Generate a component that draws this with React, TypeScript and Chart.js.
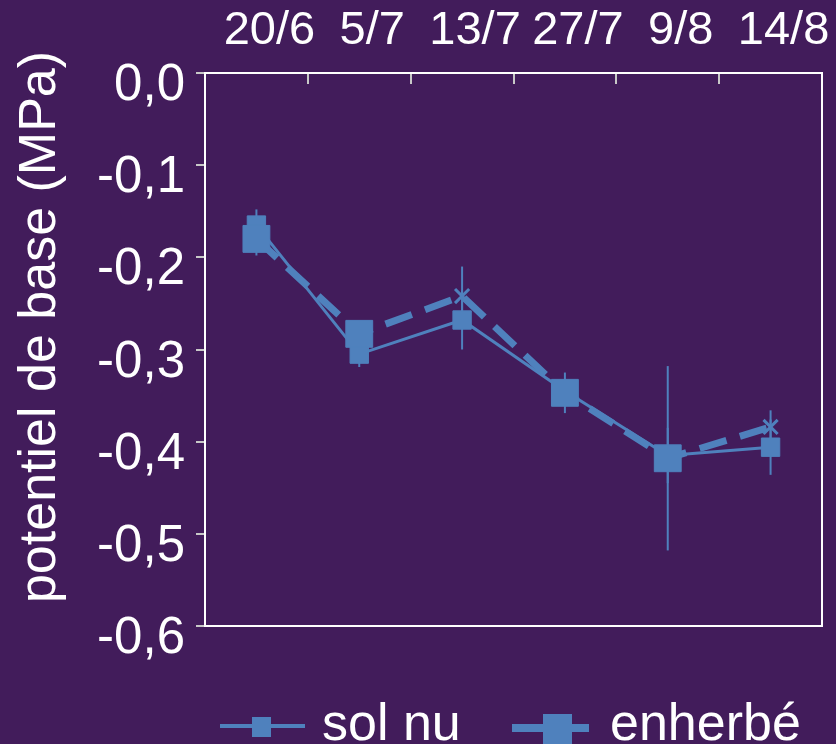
import React, { useEffect, useRef } from 'react';
import { Chart, registerables } from 'chart.js';

Chart.register(...registerables);

// ---- data ----
const categories = ['20/6', '5/7', '13/7', '27/7', '9/8', '14/8'];
const solNu = [-0.165, -0.305, -0.268, -0.345, -0.415, -0.406];
const solNuErr = [0.017, 0.014, 0.032, 0.012, 0.03, 0.03];
const enherbe = [-0.18, -0.283, -0.242, -0.347, -0.418, -0.384];
const enherbeErr = [0.018, 0.01, 0.032, 0.022, 0.1, 0.018];
const enherbeMarkers = ['rect', 'rect', 'crossRot', 'rect', 'rect', 'crossRot'];
const yTickLabels = ['0,0', '-0,1', '-0,2', '-0,3', '-0,4', '-0,5', '-0,6'];
const seriesNames = ['sol nu', 'enherbé'];
const yTitle = 'potentiel de base (MPa)';

const FONT = "'Liberation Sans', Arial, Helvetica, sans-serif";
const BG = '#421c5b';
const BLUE = '#4f81bd';
const WHITE = '#ffffff';
const TICK_GREY = '#c8c8c8';

export default function App() {
  const ref = useRef<HTMLCanvasElement>(null);

  useEffect(() => {
    const canvas = ref.current;
    if (!canvas) return;

    const bgPlugin = {
      id: 'bg',
      beforeDraw(chart: any) {
        const { ctx, width, height } = chart;
        ctx.save();
        ctx.fillStyle = BG;
        ctx.fillRect(0, 0, width, height);
        ctx.restore();
      },
    };

    const errPlugin = {
      id: 'errBars',
      beforeDatasetsDraw(chart: any) {
        const { ctx } = chart;
        const ys = chart.scales.y;
        const errs = [solNuErr, enherbeErr];
        ctx.save();
        ctx.strokeStyle = BLUE;
        ctx.lineWidth = 2;
        chart.data.datasets.forEach((ds: any, i: number) => {
          const meta = chart.getDatasetMeta(i);
          meta.data.forEach((pt: any, j: number) => {
            const v = ds.data[j];
            const e = errs[i][j];
            const y1 = ys.getPixelForValue(v + e);
            const y2 = ys.getPixelForValue(v - e);
            ctx.beginPath();
            ctx.moveTo(pt.x, y1);
            ctx.lineTo(pt.x, y2);
            ctx.stroke();
          });
        });
        ctx.restore();
      },
    };

    const framePlugin = {
      id: 'frame',
      afterDraw(chart: any) {
        const { ctx, chartArea } = chart;
        const xs = chart.scales.x;
        ctx.save();
        // inward ticks on the top axis, between categories
        ctx.strokeStyle = TICK_GREY;
        ctx.lineWidth = 2;
        for (let i = 1; i < categories.length; i++) {
          const x = Math.round((xs.getPixelForValue(i - 1) + xs.getPixelForValue(i)) / 2);
          ctx.beginPath();
          ctx.moveTo(x, chartArea.top);
          ctx.lineTo(x, chartArea.top + 11);
          ctx.stroke();
        }
        // plot frame
        ctx.strokeStyle = WHITE;
        ctx.lineWidth = 2;
        ctx.strokeRect(chartArea.left, chartArea.top, chartArea.right - chartArea.left, chartArea.bottom - chartArea.top);

        // y axis title
        ctx.fillStyle = WHITE;
        ctx.font = `52px ${FONT}`;
        ctx.textAlign = 'center';
        ctx.textBaseline = 'alphabetic';
        ctx.translate(55, 327);
        ctx.rotate(-Math.PI / 2);
        ctx.fillText(yTitle, 0, 0);
        ctx.restore();

        // legend
        ctx.save();
        ctx.fillStyle = WHITE;
        ctx.font = `52px ${FONT}`;
        ctx.textAlign = 'left';
        ctx.textBaseline = 'alphabetic';
        // sol nu
        ctx.strokeStyle = BLUE;
        ctx.lineWidth = 4;
        ctx.beginPath();
        ctx.moveTo(220, 726);
        ctx.lineTo(305, 726);
        ctx.stroke();
        ctx.fillStyle = BLUE;
        ctx.fillRect(252, 717, 19, 20);
        ctx.fillStyle = WHITE;
        ctx.fillText(seriesNames[0], 322, 740);
        // enherbé
        ctx.strokeStyle = BLUE;
        ctx.lineWidth = 8;
        ctx.beginPath();
        ctx.moveTo(512, 728);
        ctx.lineTo(589, 728);
        ctx.stroke();
        ctx.fillStyle = BLUE;
        ctx.fillRect(543, 714, 29, 30);
        ctx.fillStyle = WHITE;
        ctx.fillText(seriesNames[1], 610, 740);
        ctx.restore();
      },
    };

    const chart = new Chart(canvas, {
      type: 'line',
      data: {
        labels: categories,
        datasets: [
          {
            label: seriesNames[0],
            data: solNu,
            borderColor: BLUE,
            backgroundColor: BLUE,
            borderWidth: 3,
            pointStyle: 'rect',
            pointRadius: 13,
            pointBorderWidth: 1,
            pointBackgroundColor: BLUE,
            pointBorderColor: BLUE,
            tension: 0,
            order: 1,
            clip: false as any,
          },
          {
            label: seriesNames[1],
            data: enherbe,
            borderColor: BLUE,
            backgroundColor: BLUE,
            borderWidth: 7,
            borderDash: [28, 14],
            pointStyle: enherbeMarkers as any,
            pointRadius: [19, 19, 10, 19, 19, 10],
            pointBorderWidth: [1, 1, 3, 1, 1, 3],
            pointBackgroundColor: BLUE,
            pointBorderColor: BLUE,
            tension: 0,
            order: 0,
            clip: false as any,
          },
        ],
      },
      options: {
        responsive: false,
        animation: false,
        devicePixelRatio: 1,
        layout: { autoPadding: false, padding: { left: 0, top: 0, right: 14, bottom: 118 } },
        plugins: {
          legend: { display: false },
          tooltip: { enabled: false },
          title: { display: false },
        },
        scales: {
          x: {
            type: 'category',
            position: 'top',
            offset: true,
            grid: { display: false },
            border: { display: false },
            ticks: {
              color: WHITE,
              font: { family: FONT, size: 47 },
              padding: 6,
              labelOffset: 13,
              maxRotation: 0,
              minRotation: 0,
              autoSkip: false,
            },
            afterFit(scale: any) {
              scale.height = 73;
              scale.paddingLeft = 0;
              scale.paddingRight = 0;
            },
          },
          y: {
            type: 'linear',
            position: 'left',
            min: -0.6,
            max: 0,
            grid: {
              drawOnChartArea: false,
              color: TICK_GREY,
              tickLength: 9,
              lineWidth: 2,
            },
            border: { display: false },
            ticks: {
              stepSize: 0.1,
              color: WHITE,
              font: { family: FONT, size: 51 },
              padding: 11,
              labelOffset: 13,
              autoSkip: false,
              callback: (value: any) => yTickLabels[Math.round(-Number(value) * 10)] ?? '',
            },
            afterFit(scale: any) {
              scale.width = 205;
              scale.paddingTop = 0;
              scale.paddingBottom = 0;
            },
          },
        },
      },
      plugins: [bgPlugin, errPlugin, framePlugin],
    });

    return () => chart.destroy();
  }, []);

  return (
    <div style={{ position: 'fixed', left: 0, top: 0, width: 836, height: 744, background: BG, overflow: 'hidden' }}>
      <canvas ref={ref} width={836} height={744} style={{ display: 'block', width: 836, height: 744 }} />
    </div>
  );
}
